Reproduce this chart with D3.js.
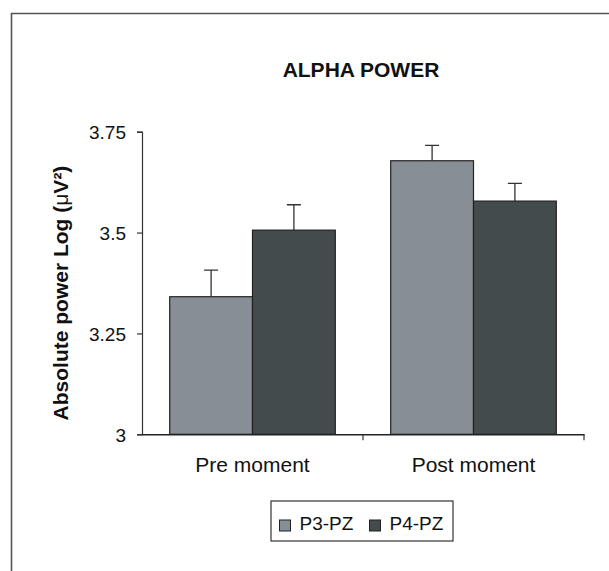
<!DOCTYPE html>
<html><head><meta charset="utf-8">
<script src="https://cdn.jsdelivr.net/npm/d3@7"></script>
<style>body{margin:0;background:#fff}svg{display:block}text{font-family:"Liberation Sans",Arial,sans-serif;fill:#111}</style>
</head><body>
<script>
const categories = ["Pre moment", "Post moment"];
const seriesNames = ["P3-PZ", "P4-PZ"];
const p3Values = [3.341, 3.678];
const p4Values = [3.506, 3.578];
const p3Errors = [0.066, 0.038];
const p4Errors = [0.063, 0.044];
const yTicks = [3, 3.25, 3.5, 3.75];
const yTickLabels = ["3", "3.25", "3.5", "3.75"];
const colors = ["#878e95", "#444b4d"];

const W = 609, H = 571;
const svg = d3.select("body").append("svg").attr("width", W).attr("height", H);

// outer frame
svg.append("path").attr("d", `M11.5,${H+5} V13.5 H${W+5}`).attr("fill","none").attr("stroke","#555").attr("stroke-width",1.6);

const x0 = d3.scaleBand().domain(categories).range([142, 584]).paddingInner(0).paddingOuter(0);
const y = d3.scaleLinear().domain([3, 3.75]).range([434.3, 131.7]);
const x1 = d3.scaleBand().domain(seriesNames).range([27.7, x0.bandwidth() - 27.7]);

const data = categories.map((c, i) => ({
  cat: c,
  vals: [ {s: seriesNames[0], v: p3Values[i], e: p3Errors[i], c: colors[0]},
          {s: seriesNames[1], v: p4Values[i], e: p4Errors[i], c: colors[1]} ]
}));

const g = svg.append("g");
const groups = g.selectAll("g.grp").data(data).enter().append("g")
  .attr("transform", d => `translate(${x0(d.cat)},0)`);

// error bars
groups.selectAll("path.err").data(d => d.vals).enter().append("path")
  .attr("d", d => {
    const cx = x1(d.s) + x1.bandwidth()/2;
    return `M${cx},${y(d.v)} V${y(d.v + d.e)} M${cx-7},${y(d.v + d.e)} H${cx+7}`;
  })
  .attr("stroke", "#333").attr("stroke-width", 1.3).attr("fill","none");

groups.selectAll("rect").data(d => d.vals).enter().append("rect")
  .attr("x", d => x1(d.s)).attr("width", x1.bandwidth())
  .attr("y", d => y(d.v)).attr("height", d => y(3) - y(d.v))
  .attr("fill", d => d.c).attr("stroke", "#222").attr("stroke-width", 1.2);

// y axis
const yAxis = d3.axisLeft(y).tickValues(yTicks).tickFormat((d, i) => yTickLabels[i]).tickSize(5).tickPadding(11);
const ya = svg.append("g").attr("transform", "translate(142,0)").call(yAxis);
ya.select(".domain").attr("stroke","#333").attr("stroke-width",1.2);
ya.selectAll(".tick line").attr("stroke","#333").attr("stroke-width",1.2);
ya.selectAll("text").style("font-size","19px").attr("fill","#111").attr("dy","0.36em");

// x axis
const xa = svg.append("g").attr("transform", `translate(0,${y(3)})`)
  .call(d3.axisBottom(x0).tickSize(0).tickPadding(23));
xa.select(".domain").attr("stroke","#222").attr("stroke-width",1.6);
xa.selectAll("text").style("font-size","21px").attr("fill","#111");
// separator ticks at band edges
const edges = [x0.range()[0] + x0.bandwidth(), x0.range()[1]];
svg.selectAll("line.sep").data(edges).enter().append("line")
  .attr("x1", d => d).attr("x2", d => d).attr("y1", y(3)).attr("y2", y(3) + 6)
  .attr("stroke","#333").attr("stroke-width",1.2);

// title
svg.append("text").attr("x", 361).attr("y", 77).attr("text-anchor","middle")
  .style("font-size","21px").style("font-weight","bold").text("ALPHA POWER");

// y label
const yl = svg.append("text").attr("transform","translate(67.5,293) rotate(-90)").attr("text-anchor","middle")
  .style("font-size","21px").style("font-weight","bold");
yl.append("tspan").text("Absolute power Log (");
yl.append("tspan").style("font-weight","normal").text("μ");
yl.append("tspan").text("V²)");

// legend
const lg = svg.append("g");
lg.append("rect").attr("x", 271).attr("y", 501).attr("width", 182).attr("height", 40)
  .attr("fill","#fff").attr("stroke","#333").attr("stroke-width",1.2);
const items = [{n: seriesNames[0], c: colors[0], x: 279.5}, {n: seriesNames[1], c: colors[1], x: 369.5}];
items.forEach(it => {
  lg.append("rect").attr("x", it.x).attr("y", 520).attr("width", 11).attr("height", 11)
    .attr("fill", it.c).attr("stroke","#222").attr("stroke-width",1);
  lg.append("text").attr("x", it.x + 20).attr("y", 530).style("font-size","19px").text(it.n);
});
</script>
</body></html>
